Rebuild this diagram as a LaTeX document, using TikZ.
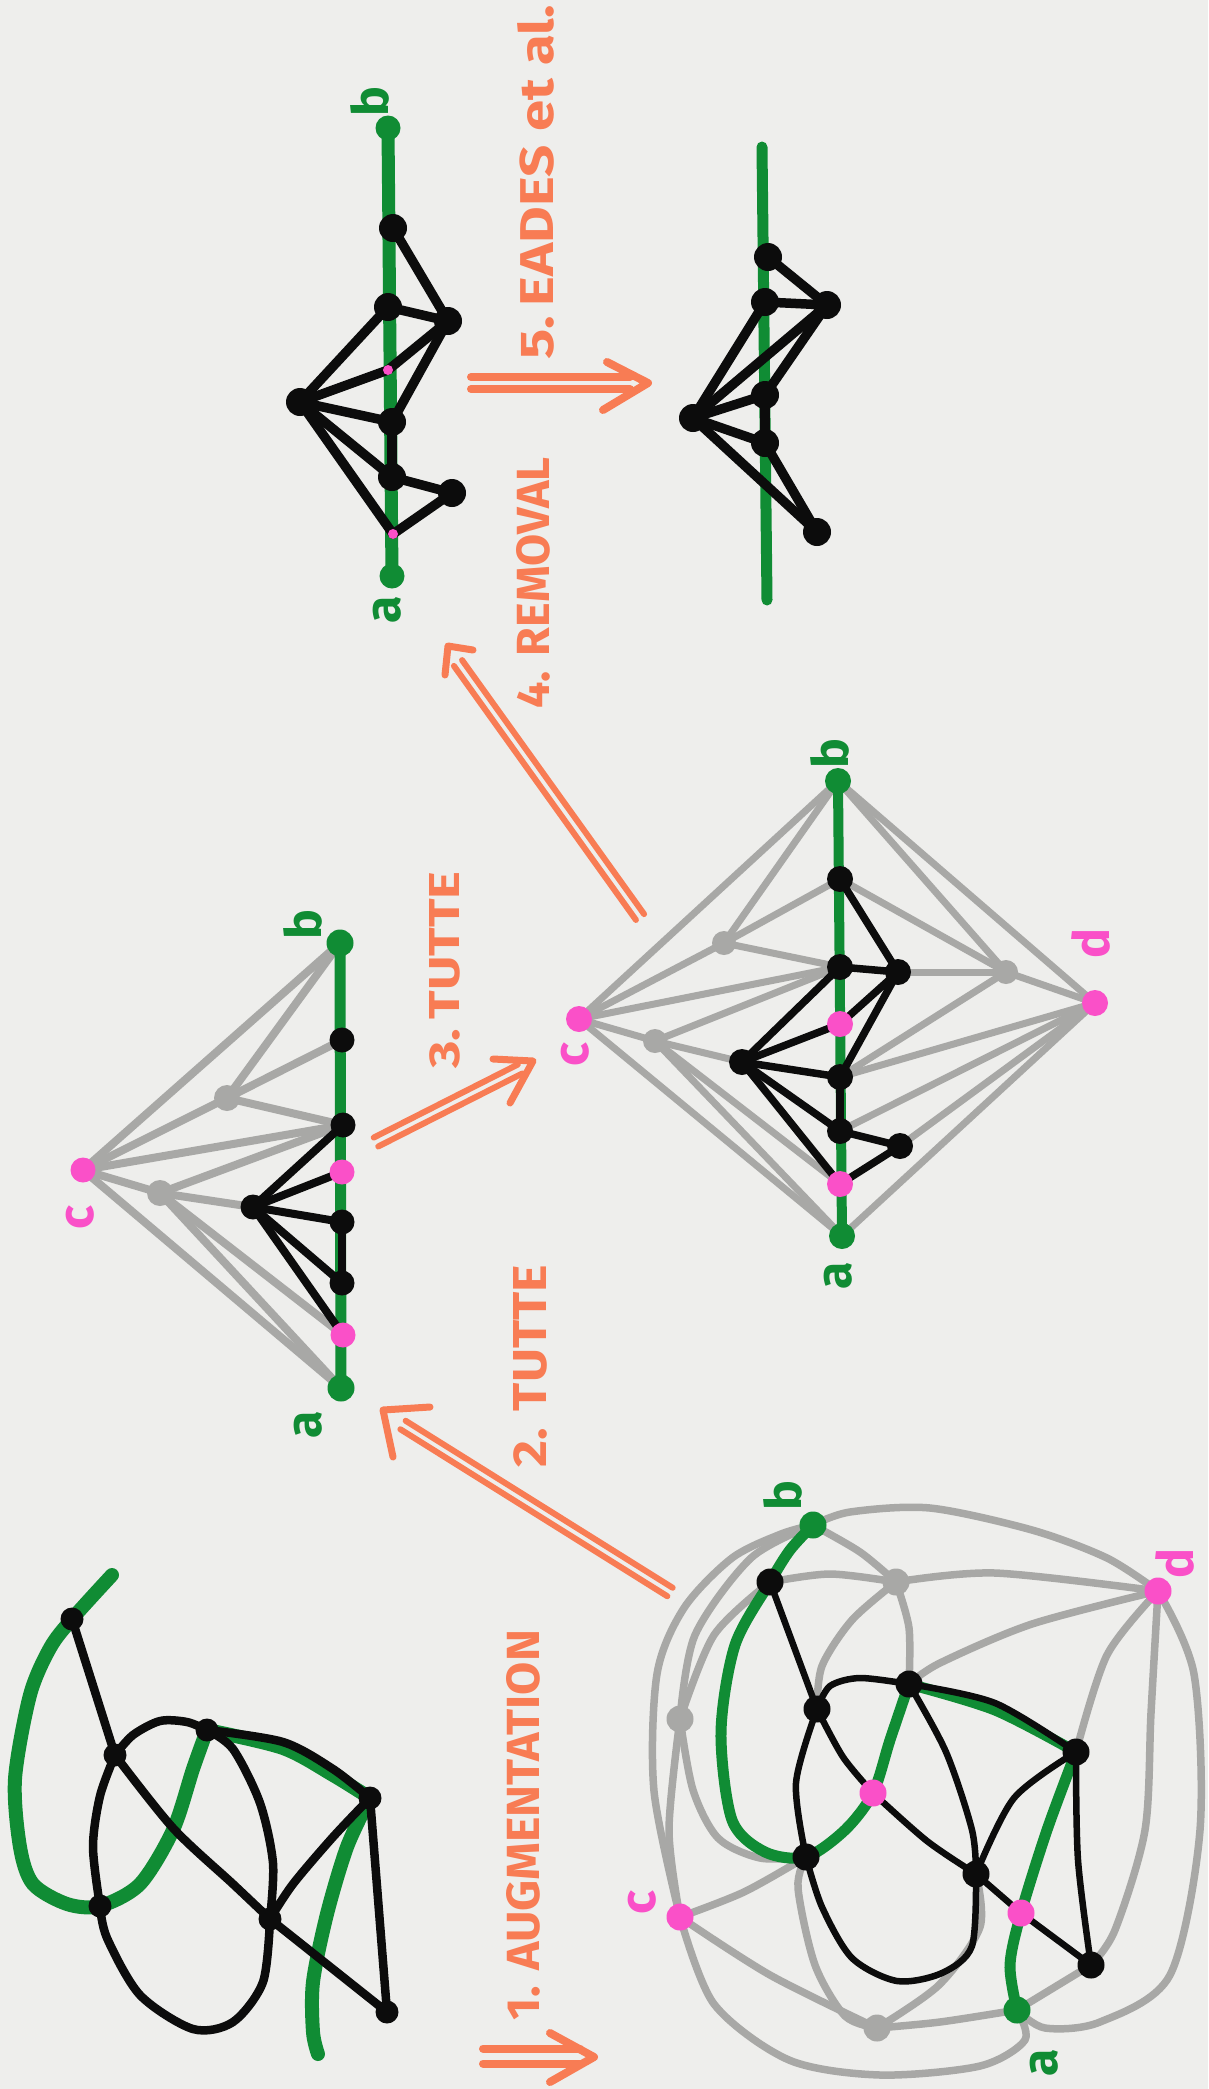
\documentclass[tikz,border=0pt]{standalone}
\usepackage{fontspec}
\usetikzlibrary{calc}
\newfontfamily\handfont{Fira Sans}
\definecolor{paper}{RGB}{238,238,236}
\definecolor{ink}{RGB}{12,12,12}
\definecolor{leaf}{RGB}{16,140,52}
\definecolor{rose}{RGB}{250,80,200}
\definecolor{ash}{RGB}{168,168,166}
\definecolor{coral}{RGB}{248,124,84}
\begin{document}
\begin{tikzpicture}[x=1pt,y=-1pt,
  kedge/.style={draw=ink,line width=7pt,line cap=round,line join=round},
  aedge/.style={draw=ash,line width=7pt,line cap=round,line join=round},
  route/.style={draw=leaf,line width=12pt,line cap=round,line join=round},
  kdot/.style={circle,fill=ink,inner sep=0pt,minimum size=#1},
  kdot/.default=26pt,
  adot/.style={circle,fill=ash,inner sep=0pt,minimum size=#1},
  adot/.default=26pt,
  pdot/.style={circle,fill=rose,inner sep=0pt,minimum size=#1},
  pdot/.default=26pt,
  gdot/.style={circle,fill=leaf,inner sep=0pt,minimum size=#1},
  gdot/.default=24pt,
  vlabel/.style={rotate=90,inner sep=0pt,font=\handfont\bfseries\fontsize{50}{50}\selectfont},
  steplabel/.style={rotate=90,inner sep=0pt,text=coral,font=\handfont\bfseries},
  shaft/.style={draw=coral,line width=#1,line cap=round},
  shaft/.default=6pt,
  barb/.style={draw=coral,line width=#1,line cap=round,line join=round},
  barb/.default=7pt,
]
\fill[paper] (0,0) rectangle (1208,2089);
\useasboundingbox (0,0) rectangle (1208,2089);

% ================= input drawing (bottom left) =================
\coordinate (o1) at (72,1619);
\coordinate (o2) at (115,1755);
\coordinate (o3) at (207,1730);
\coordinate (o4) at (370,1798);
\coordinate (o5) at (100,1906);
\coordinate (o6) at (270,1919);
\coordinate (o7) at (387,2012);
\coordinate (oS) at (112,1575);
\coordinate (oE) at (318,2054);
\begin{scope}[route,line width=14pt]
\draw plot[smooth] coordinates {(oS) (o1) (50,1648) (30,1695) (15,1779) (20,1847) (33,1884) (67,1904) (o5) (140,1884) (173,1830) (193,1769) (o3)};
\draw plot[smooth] coordinates {(o3) (283,1748) (333,1775) (o4)};
\draw plot[smooth] coordinates {(o4) (347,1847) (327,1914) (313,1982) (313,2032) (oE)};
\end{scope}
\begin{scope}[kedge,line width=8.5pt]
\draw (o1) -- (o2);
\draw plot[smooth] coordinates {(o2) (173,1828) (233,1884) (o6)};
\draw plot[smooth] coordinates {(o2) (133,1735) (160,1721) (187,1722) (o3)};
\draw plot[smooth] coordinates {(o3) (283,1742) (333,1769) (o4)};
\draw plot[smooth] coordinates {(o3) (233,1749) (260,1803) (273,1863) (o6)};
\draw plot[smooth] coordinates {(o2) (100,1796) (93,1847) (o5)};
\draw plot[smooth] coordinates {(o5) (107,1938) (140,1995) (193,2029) (233,2022) (263,1982) (o6)};
\draw plot[smooth] coordinates {(o4) (333,1837) (293,1884) (o6)};
\draw (o6) -- (o7);
\draw (o4) -- (o7);
\end{scope}
\foreach \v in {o1,o2,o3,o4,o5,o6,o7} \node[kdot=23pt] (n\v) at (\v) {};

% ================= augmented drawing (bottom right) =================
\coordinate (gb) at (813,1525);
\coordinate (gB1) at (770,1582);
\coordinate (gG1) at (896,1582);
\coordinate (gd) at (1158,1591);
\coordinate (gG2) at (680,1719);
\coordinate (gB2) at (817,1709);
\coordinate (gB3) at (909,1684);
\coordinate (gB4) at (1076,1752);
\coordinate (gP1) at (873,1793);
\coordinate (gB5) at (806,1857);
\coordinate (gB6) at (976,1874);
\coordinate (gc) at (680,1917);
\coordinate (gP2) at (1021,1913);
\coordinate (gB7) at (1091,1965);
\coordinate (ga) at (1017,2010);
\coordinate (gG3) at (877,2028);
% added edges
\begin{scope}[aedge,line width=7.5pt]
\draw plot[smooth] coordinates {(gb) (850,1512) (930,1508) (1032,1530) (1107,1558) (gd)};
\draw plot[smooth] coordinates {(gb) (860,1552) (gG1)};
\draw plot[smooth] coordinates {(gG1) (995,1573) (gd)};
\draw plot[smooth] coordinates {(gB1) (830,1574) (gG1)};
\draw plot[smooth] coordinates {(gG1) (909,1628) (gB3)};
\draw plot[smooth] coordinates {(gG1) (852,1620) (822,1666) (gB2)};
\draw plot[smooth] coordinates {(gd) (1032,1624) (940,1663) (gB3)};
\draw plot[smooth] coordinates {(gd) (1107,1655) (gB4)};
\draw plot[smooth] coordinates {(gd) (1151,1713) (1145,1830) (1115,1930) (gB7)};
\draw plot[smooth] coordinates {(gd) (1194,1674) (1200,1830) (1170,1975) (1100,2022) (1045,2028) (ga)};
\draw plot[smooth] coordinates {(gc) (744,1892) (gB5)};
\draw plot[smooth] coordinates {(gc) (669,1830) (gG2)};
\draw plot[smooth] coordinates {(gc) (654,1791) (657,1674) (684,1608) (732,1558) (781,1534) (gb)};
\draw plot[smooth] coordinates {(gG2) (695,1635) (751,1558) (gb)};
\draw plot[smooth] coordinates {(gG2) (714,1635) (gB1)};
\draw plot[smooth] coordinates {(gG2) (693,1790) (718,1838) (760,1858) (gB5)};
\draw plot[smooth] coordinates {(gc) (770,1975) (gG3)};
\draw plot[smooth] coordinates {(gc) (714,2004) (789,2060) (880,2075) (980,2066) (1025,2040) (ga)};
\draw plot[smooth] coordinates {(gB5) (798,1888) (815,1965) (845,2016) (gG3)};
\draw plot[smooth] coordinates {(gG3) (939,1985) (980,1927) (gB6)};
\draw plot[smooth] coordinates {(gG3) (940,2022) (ga)};
\draw (ga) -- (gB7);
\end{scope}
% chosen path
\begin{scope}[route,line width=11pt]
\draw plot[smooth] coordinates {(gb) (790,1550) (gB1) (735,1645) (721,1732) (732,1820) (765,1852) (gB5) (845,1830) (gP1) (890,1740) (gB3)};
\draw plot[smooth] coordinates {(gB3) (995,1710) (gB4)};
\draw plot[smooth] coordinates {(gB4) (1047,1830) (gP2) (1010,1965) (ga)};
\end{scope}
% original edges
\begin{scope}[kedge,line width=6.5pt]
\draw (gB1) -- (gB2);
\draw plot[smooth] coordinates {(gB2) (830,1686) (860,1678) (gB3)};
\draw plot[smooth] coordinates {(gB3) (995,1703) (gB4)};
\draw plot[smooth] coordinates {(gB2) (843,1757) (gP1)};
\draw plot[smooth] coordinates {(gP1) (927,1841) (gB6)};
\draw plot[smooth] coordinates {(gB2) (796,1783) (gB5)};
\draw plot[smooth] coordinates {(gB3) (946,1752) (972,1830) (gB6)};
\draw plot[smooth] coordinates {(gB6) (972,1946) (942,1973) (897,1981) (852,1958) (822,1907) (gB5)};
\draw plot[smooth] coordinates {(gB4) (1014,1798) (gB6)};
\draw (gB6) -- (gP2) -- (gB7);
\draw plot[smooth] coordinates {(gB4) (1078,1860) (gB7)};
\end{scope}
\foreach \v in {gG1,gG2,gG3} \node[adot=27pt] (n\v) at (\v) {};
\foreach \v in {gb,ga} \node[gdot=27pt] (n\v) at (\v) {};
\foreach \v in {gB1,gB2,gB3,gB4,gB5,gB6,gB7} \node[kdot=27pt] (n\v) at (\v) {};
\foreach \v in {gP1,gP2,gc,gd} \node[pdot=27pt] (n\v) at (\v) {};
\node[vlabel,text=leaf] (lgb) at (783,1496) {b};
\node[vlabel,text=rose] (lgd) at (1175,1563) {d};
\node[vlabel,text=rose] (lgc) at (642,1903) {c};
\node[vlabel,text=leaf] (lga) at (1044,2063) {a};

% ================= first Tutte drawing (middle left) =================
\coordinate (tb) at (340,943);
\coordinate (t1) at (342,1040);
\coordinate (t2) at (343,1125);
\coordinate (tP1) at (342,1172);
\coordinate (t3) at (342,1222);
\coordinate (t4) at (342,1283);
\coordinate (tP2) at (343,1335);
\coordinate (ta) at (341,1388);
\coordinate (tL) at (253,1207);
\coordinate (tGA) at (227,1098);
\coordinate (tGB) at (160,1193);
\coordinate (tc) at (83,1170);
\begin{scope}[aedge,line width=8pt]
\foreach \u/\v in {tc/tb,tc/tGA,tc/t2,tc/tGB,tc/ta,tGA/tb,tGA/t1,tGA/t2,tGB/t2,tGB/tL,tGB/tP2,tGB/ta}
  \draw (\u) -- (\v);
\end{scope}
\draw[route,line width=11pt] (tb) -- (ta);
\begin{scope}[kedge,line width=8pt]
\foreach \u/\v in {tL/t2,tL/tP1,tL/t3,tL/t4,tL/tP2,t3/t4}
  \draw (\u) -- (\v);
\end{scope}
\foreach \v in {tGA,tGB} \node[adot] (n\v) at (\v) {};
\foreach \v in {tb,ta} \node[gdot=27pt] (n\v) at (\v) {};
\foreach \v in {t1,t2,t3,t4,tL} \node[kdot=25pt] (n\v) at (\v) {};
\foreach \v in {tP1,tP2,tc} \node[pdot=25pt] (n\v) at (\v) {};
\node[vlabel,text=leaf] (ltb) at (303,925) {b};
\node[vlabel,text=rose] (ltc) at (80,1218) {c};
\node[vlabel,text=leaf] (lta) at (308,1425) {a};

% ================= second Tutte drawing (middle) =================
\coordinate (mb) at (838,781);
\coordinate (m1) at (840,879);
\coordinate (m2) at (840,967);
\coordinate (mR1) at (898,972);
\coordinate (mP1) at (840,1024);
\coordinate (mL) at (742,1062);
\coordinate (m3) at (840,1077);
\coordinate (m4) at (840,1131);
\coordinate (mR2) at (900,1146);
\coordinate (mP2) at (840,1184);
\coordinate (ma) at (842,1236);
\coordinate (mc) at (579,1019);
\coordinate (md) at (1095,1003);
\coordinate (mGC1) at (724,943);
\coordinate (mGC2) at (655,1041);
\coordinate (mGD) at (1006,972);
\begin{scope}[aedge,line width=7pt]
\foreach \u/\v in {mc/mb,mc/mGC1,mc/m2,mc/mGC2,mc/ma,mGC1/mb,mGC1/m1,mGC1/m2,mGC2/m2,mGC2/mL,mGC2/mP2,mGC2/ma,md/mb,mGD/mb,mGD/m1,mGD/mR1,mGD/md,mGD/m3,md/m3,md/m4,md/mR2,md/ma}
  \draw (\u) -- (\v);
\end{scope}
\draw[route,line width=10pt] (mb) -- (ma);
\begin{scope}[kedge,line width=7.5pt]
\foreach \u/\v in {m1/mR1,m2/mR1,mR1/mP1,mR1/m3,m2/mL,mL/mP1,mL/m3,mL/m4,mL/mP2,m3/m4,m4/mR2,mR2/mP2}
  \draw (\u) -- (\v);
\end{scope}
\foreach \v in {mGC1,mGC2,mGD} \node[adot=24pt] (n\v) at (\v) {};
\foreach \v in {mb,ma} \node[gdot=26pt] (n\v) at (\v) {};
\foreach \v in {m1,m2,mR1,mL,m3,m4,mR2} \node[kdot=26pt] (n\v) at (\v) {};
\foreach \v in {mP1,mP2,mc,md} \node[pdot=26pt] (n\v) at (\v) {};
\node[vlabel,text=leaf] (lmb) at (830,754) {b};
\node[vlabel,text=leaf] (lma) at (838,1276) {a};
\node[vlabel,text=rose] (lmc) at (575,1055) {c};
\node[vlabel,text=rose] (lmd) at (1091,943) {d};

% ================= after removal (top) =================
\coordinate (rb) at (388,128);
\coordinate (r1) at (393,228);
\coordinate (r2) at (388,307);
\coordinate (rR1) at (448,321);
\coordinate (rP1) at (388,370);
\coordinate (rL) at (300,402);
\coordinate (r3) at (392,422);
\coordinate (r4) at (392,477);
\coordinate (rR2) at (452,493);
\coordinate (rP2) at (393,534);
\coordinate (ra) at (392,576);
\draw[route,line width=13pt] (rb) -- (ra);
\begin{scope}[kedge,line width=9.5pt]
\foreach \u/\v in {r1/rR1,r2/rR1,rR1/rP1,rR1/r3,r2/rL,rL/rP1,rL/r3,rL/r4,rL/rP2,r3/r4,r4/rR2,rR2/rP2}
  \draw (\u) -- (\v);
\end{scope}
\foreach \v in {rb,ra} \node[gdot=25pt] (n\v) at (\v) {};
\foreach \v in {r1,r2,rR1,rL,r3,r4,rR2} \node[kdot=28pt] (n\v) at (\v) {};
\foreach \v in {rP1,rP2} \node[pdot=10pt] (n\v) at (\v) {};
\node[vlabel,text=leaf] (lrb) at (370,102) {b};
\node[vlabel,text=leaf] (lra) at (387,610) {a};

% ================= final drawing (top right) =================
\coordinate (fT) at (762,147);
\coordinate (fB) at (767,600);
\coordinate (f1) at (768,257);
\coordinate (f2) at (765,302);
\coordinate (fR1) at (827,305);
\coordinate (fL) at (693,418);
\coordinate (f3) at (765,395);
\coordinate (f4) at (765,443);
\coordinate (fR2) at (817,532);
\draw[route,line width=11pt] (fT) -- (fB);
\begin{scope}[kedge,line width=9.5pt]
\foreach \u/\v in {f1/fR1,f2/fR1,f2/fL,fR1/fL,fR1/f3,fL/f3,f3/f4,fL/f4,f4/fR2,fL/fR2}
  \draw (\u) -- (\v);
\end{scope}
\foreach \v in {f1,f2,fR1,fL,f3,f4,fR2} \node[kdot=28pt] (n\v) at (\v) {};

% ================= step arrows =================
% 1. augmentation
\coordinate (a1s) at (483,2056);
\coordinate (a1e) at (580,2056);
\coordinate (a1t) at (594,2057);
\draw[shaft=8pt] ($(a1s)!7.5pt!90:(a1e)$) -- ($(a1e)!7.5pt!-90:(a1s)$);
\draw[shaft=8pt] ($(a1s)!7.5pt!-90:(a1e)$) -- ($(a1e)!7.5pt!90:(a1s)$);
\draw[barb=8pt] (550,2033) -- (a1t) -- (550,2082);
% 2. tutte
\coordinate (a2s) at (670,1592);
\coordinate (a2e) at (403,1425);
\coordinate (a2t) at (383,1410);
\draw[shaft] ($(a2s)!5pt!90:(a2e)$) -- ($(a2e)!5pt!-90:(a2s)$);
\draw[shaft] ($(a2s)!5pt!-90:(a2e)$) -- ($(a2e)!5pt!90:(a2s)$);
\draw[barb] (430,1407) -- (a2t) -- (393,1457);
% 3. tutte
\coordinate (a3s) at (376,1142);
\coordinate (a3e) at (520,1069);
\coordinate (a3t) at (533,1061);
\draw[shaft] ($(a3s)!5pt!90:(a3e)$) -- ($(a3e)!5pt!-90:(a3s)$);
\draw[shaft] ($(a3s)!5pt!-90:(a3e)$) -- ($(a3e)!5pt!90:(a3s)$);
\draw[barb] (493,1059) -- (a3t) -- (510,1103);
% 4. removal
\coordinate (a4s) at (640,917);
\coordinate (a4e) at (458,663);
\coordinate (a4t) at (448,646);
\draw[shaft] ($(a4s)!5pt!90:(a4e)$) -- ($(a4e)!5pt!-90:(a4s)$);
\draw[shaft] ($(a4s)!5pt!-90:(a4e)$) -- ($(a4e)!5pt!90:(a4s)$);
\draw[barb] (473,650) -- (a4t) -- (445,675);
% 5. eades et al.
\coordinate (a5s) at (471,383);
\coordinate (a5e) at (630,383);
\coordinate (a5t) at (648,383);
\draw[shaft=8pt] ($(a5s)!6pt!90:(a5e)$) -- ($(a5e)!6pt!-90:(a5s)$);
\draw[shaft=8pt] ($(a5s)!6pt!-90:(a5e)$) -- ($(a5e)!6pt!90:(a5s)$);
\draw[barb=8pt] (607,362) -- (a5t) -- (603,410);

% ================= step captions =================
\node[steplabel] (s1) at (523,1825) {\resizebox{390pt}{33pt}{1. AUGMENTATION}};
\node[steplabel] (s2) at (530,1366) {\resizebox{202pt}{33pt}{2. TUTTE}};
\node[steplabel] (s3) at (445,970) {\resizebox{197pt}{30pt}{3.\,TUTTE}};
\node[steplabel] (s4) at (533,583) {\resizebox{251pt}{33pt}{4. REMOVAL}};
\node[steplabel] (s5) at (536,182) {\resizebox{355pt}{36pt}{5.\,EADES et al.}};
\end{tikzpicture}
\end{document}
